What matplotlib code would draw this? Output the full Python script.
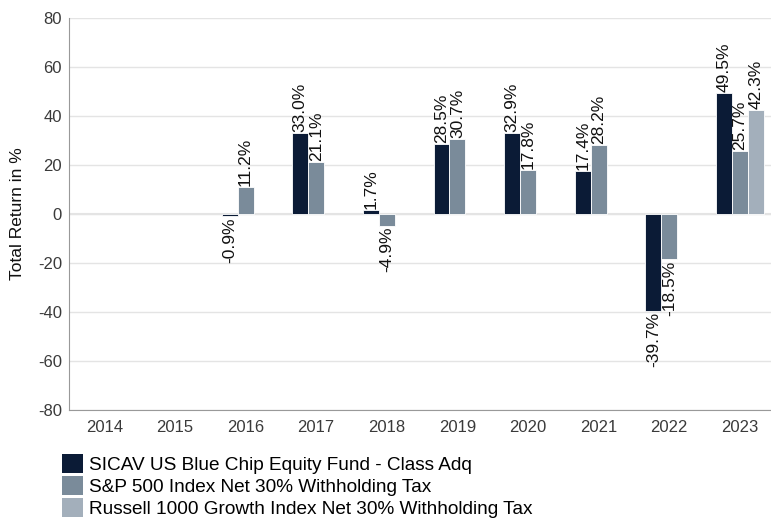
import numpy as np
import matplotlib.pyplot as plt
from matplotlib.patches import Patch

plt.rcParams["font.family"] = ["Liberation Sans", "DejaVu Sans"]
plt.rcParams["axes.unicode_minus"] = False

years = ["2014", "2015", "2016", "2017", "2018", "2019", "2020", "2021", "2022", "2023"]
fund = [np.nan, np.nan, -0.9, 33.0, 1.7, 28.5, 32.9, 17.4, -39.7, 49.5]
sp500 = [np.nan, np.nan, 11.2, 21.1, -4.9, 30.7, 17.8, 28.2, -18.5, 25.7]
russell = [np.nan, np.nan, np.nan, np.nan, np.nan, np.nan, np.nan, np.nan, np.nan, 42.3]

series_names = [
    "SICAV US Blue Chip Equity Fund - Class Adq",
    "S&P 500 Index Net 30% Withholding Tax",
    "Russell 1000 Growth Index Net 30% Withholding Tax",
]
colors = ["#0b1b36", "#7a8b9a", "#a3afbb"]

fig = plt.figure(figsize=(7.71, 5.24), dpi=100)
ax = fig.add_axes([0.0895, 0.2176, 0.916, 0.748])

x = np.arange(len(years))
w = 0.225
for i, (vals, col) in enumerate(zip([fund, sp500, russell], colors)):
    pos = x + (i - 1) * w
    ax.bar(pos, vals, width=w, color=col, edgecolor="white", linewidth=0.6, zorder=3)
    for p, v in zip(pos, vals):
        if np.isnan(v):
            continue
        ax.text(p, v + (0.4 if v >= 0 else -0.4), f"{v:.1f}%", rotation=90,
                ha="center", va="bottom" if v >= 0 else "top",
                fontsize=12.5, color="#111111", zorder=4)

ax.set_xlim(-0.5, len(years) - 0.5)
ax.set_ylim(-80, 80)
ax.set_yticks(np.arange(-80, 81, 20))
ax.set_xticks(x)
ax.set_xticklabels(years)
ax.tick_params(axis="both", length=0, labelsize=12, colors="#3a3a3a", pad=5)
ax.tick_params(axis="x", pad=7)
ax.grid(axis="y", color="#e4e4e4", linewidth=1, zorder=0)
ax.axhline(0, color="#e4e4e4", linewidth=1.5, zorder=1)
for s in ["top", "right"]:
    ax.spines[s].set_visible(False)
ax.spines["left"].set_color("#999999")
ax.spines["bottom"].set_color("#999999")
ax.set_ylabel("Total Return in %", fontsize=12.5, color="#111111", labelpad=9)

handles = [Patch(facecolor=c, edgecolor="none") for c in colors]
fig.legend(handles, series_names, loc="upper left", bbox_to_anchor=(0.07, 0.148),
           frameon=False, fontsize=13.7, handlelength=1.15, handleheight=1.15,
           handletextpad=0.3, labelspacing=0.1, borderaxespad=0)

fig.savefig("out.png", dpi=100)
